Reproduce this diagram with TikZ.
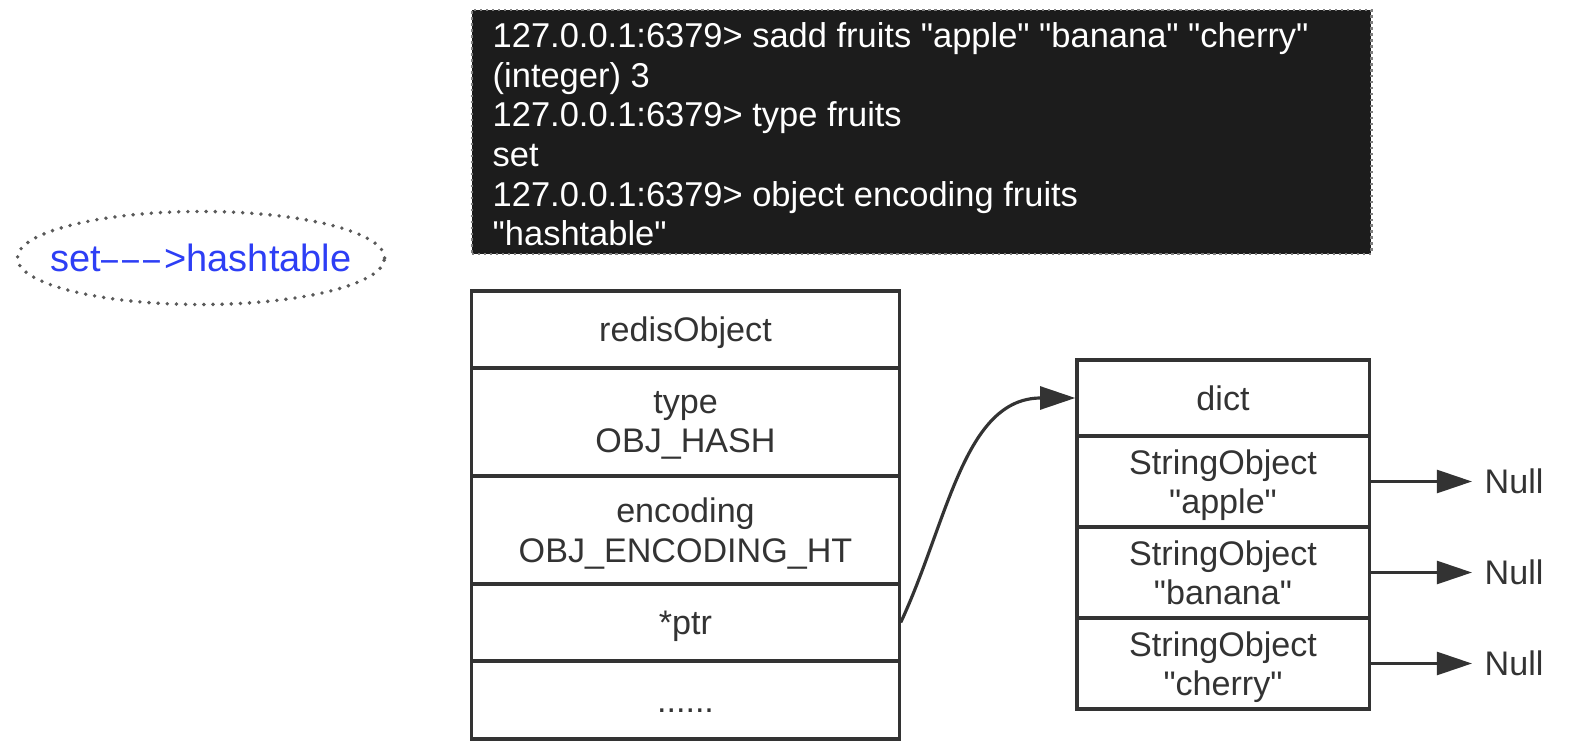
\documentclass[tikz,border=0pt]{standalone}
\usepackage{fontspec}
\setmainfont{Liberation Sans}[Ligatures=TeXOff]
\usetikzlibrary{shapes.geometric,arrows.meta}
\definecolor{ink}{HTML}{333333}
\definecolor{termbg}{HTML}{1C1C1C}
\definecolor{setblue}{HTML}{2D3EF5}
\newcommand{\dsh}{\scalebox{0.8}[1]{\textendash}\kern0.11em}
\begin{document}
\begin{tikzpicture}[x=0.01cm,y=-0.01cm,
    every node/.style={text=ink,font=\fontsize{9.7}{11.2}\selectfont},
    cell/.style={draw=ink,line width=0.9pt,minimum width=4.27cm,align=center,inner sep=0pt,text depth=0pt},
    dcell/.style={draw=ink,line width=0.9pt,minimum width=2.92cm,align=center,inner sep=0pt,text depth=0pt},
    link/.style={draw=ink,line width=0.9pt,-{Triangle[length=10pt,width=6.5pt]}}]
    \useasboundingbox (0,0) rectangle (1576,752);

    \node[ellipse,draw=gray!70!black,line width=1.1pt,dash pattern=on 0pt off 2.6pt,line cap=round,minimum width=3.67cm,minimum height=0.93cm,inner xsep=-0.22cm,inner ysep=0pt,text=setblue,font=\fontsize{10.8}{13}\selectfont] (kind) at (201,258) {set\dsh\dsh\dsh>hashtable};

    \node[draw=gray,densely dotted,line width=0.7pt,fill=termbg,minimum width=8.99cm,minimum height=2.44cm,inner sep=0pt] (term) at (921.5,132) {};
    \node[text=white,anchor=north west,align=left,inner sep=0pt,font=\fontsize{9.8}{11.27}\selectfont] (cmd) at (492,22) {127.0.0.1:6379> sadd fruits "apple" "banana" "cherry"\\(integer) 3\\127.0.0.1:6379> type fruits\\set\\127.0.0.1:6379> object encoding fruits\\"hashtable"};

    \node[cell,minimum height=0.77cm] (robj) at (685.5,329.5) {redisObject};
    \node[cell,minimum height=1.08cm] (type) at (685.5,422) {type\\OBJ\_HASH};
    \node[cell,minimum height=1.08cm] (enc) at (685.5,530) {encoding\\OBJ\_ENCODING\_HT};
    \node[cell,minimum height=0.77cm] (ptr) at (685.5,622.5) {*ptr};
    \node[cell,minimum height=0.78cm,text height=0.72em] (more) at (685.5,700) {......};

    \node[dcell,minimum height=0.76cm] (dict) at (1223,398) {dict};
    \node[dcell,minimum height=0.91cm] (apple) at (1223,481.5) {StringObject\\"apple"};
    \node[dcell,minimum height=0.91cm] (banana) at (1223,572.5) {StringObject\\"banana"};
    \node[dcell,minimum height=0.91cm] (cherry) at (1223,663.5) {StringObject\\"cherry"};

    \node[anchor=west,inner sep=0.12cm,text depth=0pt] (null1) at (1472,481.5) {Null};
    \node[anchor=west,inner sep=0.12cm,text depth=0pt] (null2) at (1472,572.5) {Null};
    \node[anchor=west,inner sep=0.12cm,text depth=0pt] (null3) at (1472,663.5) {Null};

    \draw[link] (ptr.east) to[out=65,in=180] (dict.west);

    \draw[link] (apple) -- (null1);
    \draw[link] (banana) -- (null2);
    \draw[link] (cherry) -- (null3);
\end{tikzpicture}
\end{document}
